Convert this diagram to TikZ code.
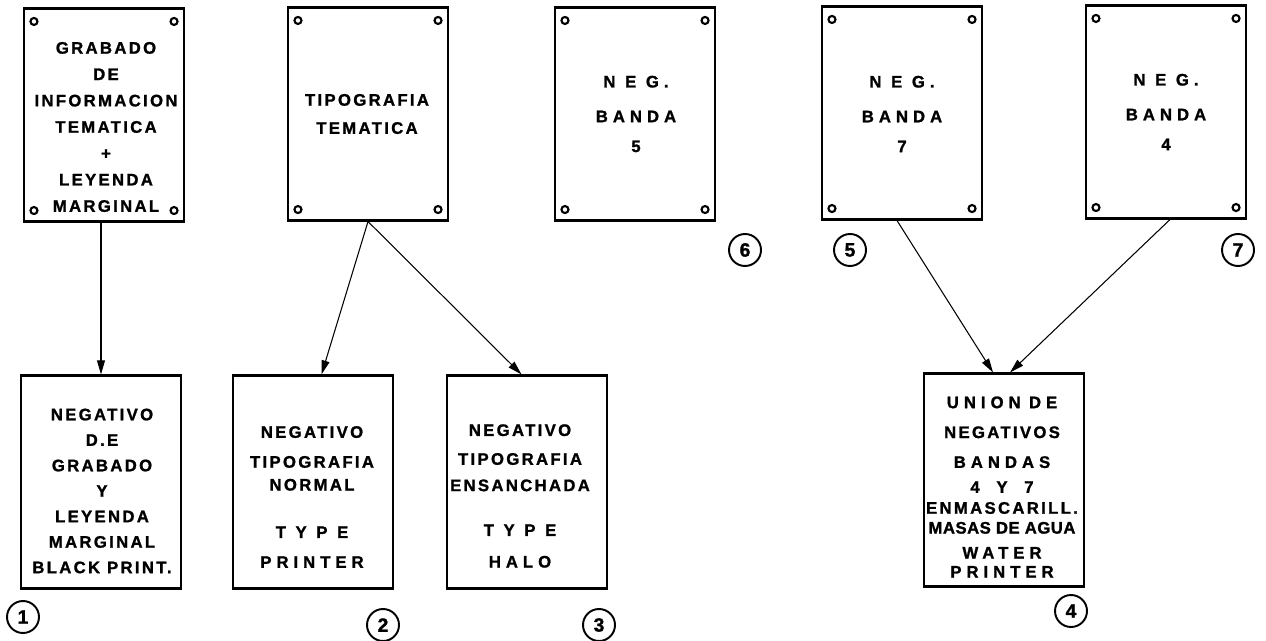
\documentclass[tikz,border=0pt]{standalone}
\usepackage{fontspec}
\setmainfont{Liberation Sans}[LetterSpace=14, BoldFeatures={FakeBold=1.3}]
\newfontfamily\widefont{Liberation Sans}[LetterSpace=30, BoldFeatures={FakeBold=1.3}]
\newfontfamily\tightfont{Liberation Sans}[LetterSpace=3, BoldFeatures={FakeBold=1.3}]
\newfontfamily\numfont{Liberation Sans}[BoldFeatures={FakeBold=1.3}]
\usetikzlibrary{arrows.meta}
\tikzstyle{panel} = [rectangle, minimum width=3.2cm, minimum height=4.26cm, draw=black, line width=1.2pt]
\tikzstyle{lettering} = [align=center, inner sep=0pt, font=\bfseries\fontsize{9.5}{15}\selectfont]
\tikzstyle{hole} = [line width=1.2pt]
\tikzstyle{tag} = [circle, draw=black, line width=1.1pt, minimum size=0.64cm, inner sep=0pt, font=\numfont\bfseries\fontsize{11}{13}\selectfont]
\tikzstyle{arrow} = [line width=0.6pt, -{Triangle[length=8pt,width=4.5pt]}]

\begin{document}
\begin{tikzpicture}[x=0.02cm, y=-0.02cm]
	\useasboundingbox (0,0) rectangle (1266,641);
	% top row
	\node (grabado) [panel] at (104,115) {};
	\node (tipotem) [panel] at (368,114) {};
	\node (banda5) [panel] at (635,114) {};
	\node (banda7) [panel] at (902,113) {};
	\node (banda4) [panel] at (1166,112) {};
	% bottom row
	\node (neggrab) [panel] at (101,482) {};
	\node (negnorm) [panel] at (313,482) {};
	\node (neghalo) [panel] at (527,482) {};
	\node (union) [panel] at (1004,480) {};
	% register holes
	\foreach \s in {grabado, tipotem, banda5, banda7, banda4}
	{
		\draw [hole] ([shift={(11,14)}]\s.north west) circle (2pt);
		\draw [hole] ([shift={(-11,14)}]\s.north east) circle (2pt);
		\draw [hole] ([shift={(11,-12)}]\s.south west) circle (2pt);
		\draw [hole] ([shift={(-11,-12)}]\s.south east) circle (2pt);
	}
	\node (grabadotxt) [lettering] at (106,127) {GRABADO\\DE\\INFORMACION\\TEMATICA\\+\\LEYENDA\\MARGINAL};
	\node (tipotemtxt) [lettering] at (367,114) {TIPOGRAFIA\\[1pt]TEMATICA};
	\node (banda5txt) [lettering] at (636,114) {{\widefont N E G.}\\[4.8pt]{\widefont BANDA}\\[2pt]5};
	\node (banda7txt) [lettering] at (902,114) {{\widefont N E G.}\\[4.8pt]{\widefont BANDA}\\[2pt]7};
	\node (banda4txt) [lettering] at (1166,112) {{\widefont N E G.}\\[4.8pt]{\widefont BANDA}\\[2pt]4};
	\node (neggrabtxt) [lettering, font=\bfseries\fontsize{9.5}{14.5}\selectfont] at (102,491) {NEGATIVO\\D.E\\GRABADO\\Y\\LEYENDA\\MARGINAL\\BLACK PRINT.};
	\node (negnormtxt) [lettering] at (312,497) {NEGATIVO\\[2pt]TIPOGRAFIA\\[-2pt]NORMAL\\[12pt]{\widefont T Y P E}\\[2pt]{\widefont PRINTER}};
	\node (neghalotxt) [lettering] at (520,496) {NEGATIVO\\[1.4pt]TIPOGRAFIA\\ENSANCHADA\\[10.5pt]{\widefont T Y P E}\\[3pt]{\widefont HALO}};
	\node (uniontxt) [lettering, font=\bfseries\fontsize{9.5}{11.3}\selectfont] at (1002,487) {{\widefont UNION\enskip DE}\\[5.7pt]NEGATIVOS\\[5.7pt]{\widefont BANDAS}\\[2.9pt]4\quad Y\quad 7\\[0.6pt]ENMASCARILL.\\{\tightfont MASAS DE AGUA}\\[2.9pt]{\widefont WATER}\\[-0.5pt]{\widefont PRINTER}};
	% sheet numbers
	\node (tag1) [tag] at (23,617) {1};
	\node (tag2) [tag] at (383,625) {2};
	\node (tag3) [tag] at (599,625) {3};
	\node (tag4) [tag] at (1071,611) {4};
	\node (tag5) [tag] at (850,250) {5};
	\node (tag6) [tag] at (745,250) {6};
	\node (tag7) [tag] at (1238,250) {7};
	\draw [arrow] (grabado.south -| neggrab.north) -- (neggrab.north);
	\draw [arrow] (tipotem.south) -- ([xshift=0.17cm]negnorm.north);
	\draw [arrow] (tipotem.south) -- ([xshift=-0.11cm]neghalo.north);
	\draw [arrow] ([xshift=-0.1cm]banda7.south) -- ([xshift=-0.22cm]union.north);
	\draw [arrow] ([xshift=0.08cm]banda4.south) -- ([xshift=0.12cm]union.north);
\end{tikzpicture}
\end{document}
